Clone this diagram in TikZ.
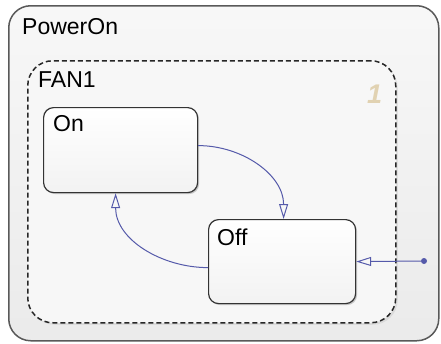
\documentclass[tikz,border=0pt]{standalone}
\usepackage{fontspec}
\setmainfont{Liberation Sans}
\usetikzlibrary{arrows.meta, shadows}
\definecolor{transblue}{RGB}{85,90,170}
\definecolor{histtan}{RGB}{225,210,178}
\tikzset{
  state/.style = {draw=black!80, line width=1.2pt, rounded corners=10pt, top color=white, bottom color=black!5,
    anchor=north west, inner sep=0pt, drop shadow={opacity=.4, shadow xshift=1.5pt, shadow yshift=-1.5pt}},
  trans/.style = {draw=transblue, line width=1pt, -{Triangle[open, length=15pt, width=9pt]}},
  statelabel/.style = {anchor=base west, inner sep=0pt}
}
\begin{document}
\begin{tikzpicture}[x=1pt, y=1pt, font=\fontsize{23}{27}\selectfont]
\useasboundingbox (0,0) rectangle (441,-343);
\node[draw=black!65, line width=1.5pt, rounded corners=22pt, top color=black!3, bottom color=black!8, anchor=north west,
  inner sep=0pt, minimum width=430, minimum height=335] (poweron) at (8,-5) {};
\node[draw=black!85, line width=1.5pt, dash pattern=on 5pt off 3pt, rounded corners=25pt, anchor=north west, inner sep=0pt,
  minimum width=368, minimum height=262, drop shadow={opacity=.15, shadow xshift=2pt, shadow yshift=-2pt}, fill=black!3] (fan) at (27,-60) {};
\node[state, minimum width=154, minimum height=85] (on) at (43,-107) {};
\node[state, minimum width=147, minimum height=84] (off) at (208,-219) {};
% names of the states
\node[statelabel] (poweron-name) at (22,-34) {PowerOn};
\node[statelabel] (fan-name) at (38,-87) {FAN1};
\node[statelabel] (on-name) at (53,-131) {On};
\node[statelabel] (off-name) at (217,-245) {Off};
\node[statelabel, text=histtan, font=\fontsize{27}{30}\selectfont\bfseries\itshape] (fan-order) at (367,-103) {1};
% transitions
\node[circle, fill=transblue, inner sep=0pt, minimum size=6pt] (dflt) at (424,-261) {};
\draw[trans] (dflt) -- (off.east);
\draw[trans] ([yshift=4.5pt]on.east) to[out=0, in=90] ([xshift=1.5pt]off.north);
\draw[trans] ([yshift=-6pt]off.west) to[out=180, in=-90] ([xshift=-5pt]on.south);
\end{tikzpicture}
\end{document}
